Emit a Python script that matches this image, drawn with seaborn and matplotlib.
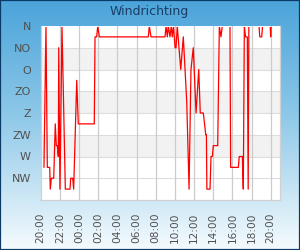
import numpy as np
import pandas as pd
import matplotlib
matplotlib.use("Agg")
import matplotlib.pyplot as plt
from matplotlib.colors import LinearSegmentedColormap
from matplotlib.patches import Rectangle
import seaborn as sns

# ---- data (hours after 20:00, wind direction in degrees) ----
hours = [0.34, 0.55, 0.69, 0.94, 1.00, 1.11, 1.36, 1.52, 1.63, 1.73, 1.84, 1.88,
         2.01, 2.22, 2.57, 3.06, 3.13, 3.34, 3.44, 3.76, 3.92, 5.59, 5.67, 5.84,
         5.95, 6.12, 11.23, 11.33, 11.51, 12.97, 13.08, 13.21, 13.32, 13.49, 13.63,
         13.73, 13.86, 14.02, 14.12, 14.25, 14.61, 14.88, 15.24, 15.48, 15.68,
         15.92, 16.21, 16.49, 16.65, 16.97, 17.22, 17.29, 17.34, 17.67, 17.77,
         17.91, 18.01, 18.47, 18.64, 18.81, 18.95, 19.75, 19.82, 20.62, 20.72,
         21.04, 21.14, 21.25, 21.37, 21.56, 21.65, 21.72, 22.78, 22.86, 23.06,
         23.15, 23.95, 24.00, 24.05, 24.55]
direction = [292.5, 0, 292.5, 292.5, 337.5, 315, 315, 202.5, 247.5, 247.5, 270, 45,
             337.5, 0, 337.5, 337.5, 315, 315, 337.5, 112.5, 202.5, 202.5, 22.5, 22.5,
             0, 22.5, 22.5, 0, 22.5, 22.5, 0, 22.5, 0, 22.5, 0,
             22.5, 0, 45, 45, 0, 90, 22.5, 157.5, 337.5, 90,
             45, 180, 90, 180, 180, 225, 225, 337.5, 337.5, 270,
             270, 247.5, 247.5, 0, 22.5, 0, 0, 292.5, 292.5, 270,
             270, 337.5, 0, 22.5, 22.5, 337.5, 0, 0, 22.5, 22.5,
             0, 0, 22.5, 0, 0]
x_ticks = [0, 2, 4, 6, 8, 10, 12, 14, 16, 18, 20, 22, 24]
x_labels = ["20:00", "22:00", "00:00", "02:00", "04:00", "06:00", "08:00",
            "10:00", "12:00", "14:00", "16:00", "18:00", "20:00"]
y_ticks = [0, 45, 90, 135, 180, 225, 270, 315]
y_labels = ["N", "NO", "O", "ZO", "Z", "ZW", "W", "NW"]
title = "Windrichting"

df = pd.DataFrame({"uur": hours, "richting": direction})

sns.set_theme(style="white")
plt.rcParams["font.family"] = ["DejaVu Sans"]

fig = plt.figure(figsize=(3.0, 2.5), dpi=100)

# background gradient
bg = fig.add_axes([0, 0, 1, 1], zorder=-10)
cmap = LinearSegmentedColormap.from_list(
    "bg", [(0.0, "#4ba4da"), (0.45, "#8cc7e8"), (1.0, "#f5fbfe")])
grad = np.linspace(0, 1, 256).reshape(-1, 1)
bg.imshow(grad, aspect="auto", cmap=cmap, extent=[0, 1, 0, 1], origin="upper")
bg.set_axis_off()
fig.patches.append(Rectangle((0, 0), 1, 1, transform=fig.transFigure,
                             fill=False, edgecolor="#0b3a66", lw=1.6, zorder=10))

ax = fig.add_axes([40.7 / 300, 1 - 200 / 250, (280 - 40.7) / 300, (200 - 26) / 250])
ax.set_facecolor("white")

# alternating bands
for lo in (45, 135, 225):
    ax.axhspan(lo, lo + 45, color="#f2f2f2", lw=0, zorder=0)

sns.lineplot(data=df, x="uur", y="richting", ax=ax, color="#ff0000",
             linewidth=0.9, sort=False, estimator=None, zorder=3)

ax.set_xlim(0, 24.97)
ax.set_ylim(360, 0)
ax.set_xticks(x_ticks)
ax.set_xticklabels(x_labels, rotation=90, fontsize=7.6, color="#505050")
ax.set_yticks(y_ticks)
ax.set_yticklabels(y_labels, fontsize=8, color="#505050")
ax.tick_params(axis="both", length=0)
ax.tick_params(axis="y", pad=7)
ax.tick_params(axis="x", pad=9)
ax.set_xlabel("")
ax.set_ylabel("")
for g in y_ticks[1:]:
    ax.axhline(g, color="#dddddd", lw=0.8, zorder=1)
for t in x_ticks[1:]:
    ax.axvline(t, color="#cccccc", lw=0.9, zorder=1)
for side in ("left", "right", "bottom"):
    ax.spines[side].set_color("#d0d0d0")
    ax.spines[side].set_linewidth(0.9)
ax.spines["top"].set_visible(False)

# hide the part of the line lying exactly on the top edge
for line in ax.lines:
    if line.get_zorder() == 3:
        line.set_clip_path(Rectangle((0, 0), 1, 1 - 1.2 / 174, transform=ax.transAxes))

fig.text(0.496, 1 - 11.7 / 250, title, ha="center", va="center",
         fontsize=9, color="#1a3d66")

fig.savefig("out.png", dpi=100)
